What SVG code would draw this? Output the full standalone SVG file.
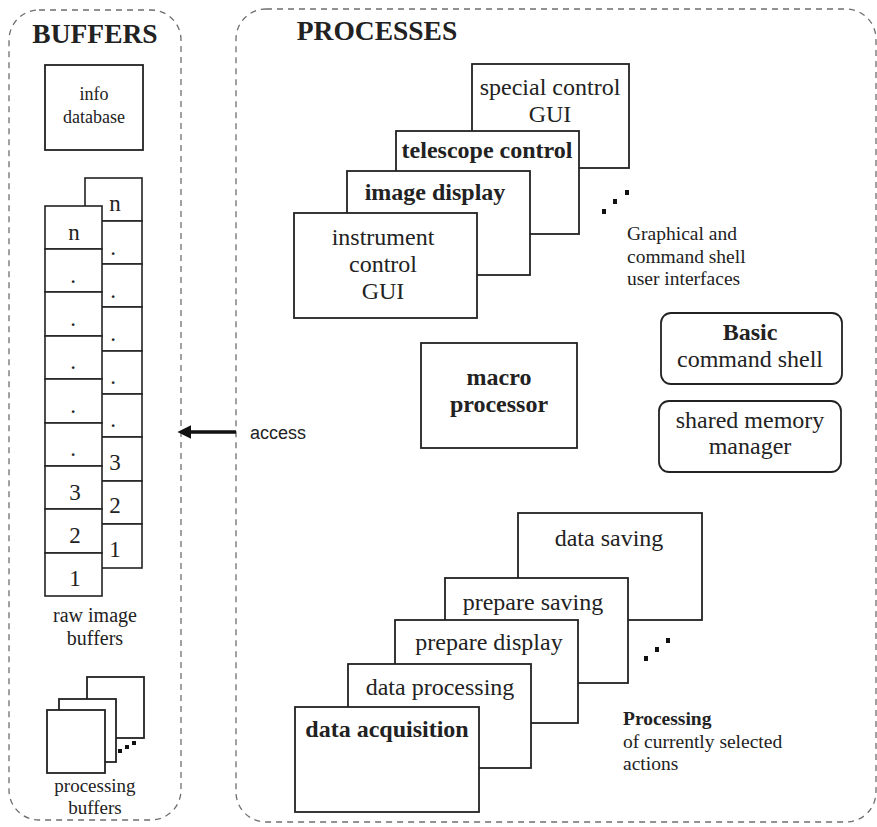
<svg xmlns="http://www.w3.org/2000/svg" width="877" height="827" viewBox="0 0 877 827">
<style>
.panel{fill:none;stroke:#6e6e6e;stroke-width:1.3;stroke-dasharray:6 5}
.box{fill:#fff;stroke:#222;stroke-width:1.8}
.cell{fill:#fff;stroke:#222;stroke-width:1.6}
.t{font-family:"Liberation Serif","Times New Roman",Times,serif;fill:#222;font-size:24px;text-anchor:middle}
.n{font-family:"Liberation Serif","Times New Roman",Times,serif;fill:#222;font-size:23px;text-anchor:middle}
.b{font-weight:bold}
.h{font-family:"Liberation Serif","Times New Roman",Times,serif;fill:#222;font-size:27.5px;font-weight:bold;text-anchor:middle}
.s{font-family:"Liberation Serif","Times New Roman",Times,serif;fill:#222;font-size:19.5px}
.c{font-family:"Liberation Serif","Times New Roman",Times,serif;fill:#222;font-size:20px;text-anchor:middle}
.d{fill:#111}
</style>
<defs>
<marker id="ah" viewBox="0 0 10 10" refX="1" refY="5" markerWidth="4" markerHeight="4" orient="auto-start-reverse"><path d="M0,0 L10,5 L0,10 z" fill="#111"/></marker>
</defs>

<g id="buffers-panel">
<rect class="panel" x="9" y="10" width="172" height="810" rx="30"/>
<text class="h" x="95" y="43">BUFFERS</text>
</g>
<g id="processes-panel">
<rect class="panel" x="236" y="9" width="640" height="813" rx="30"/>
<text class="h" x="377" y="40">PROCESSES</text>
</g>

<g id="info-database">
<rect class="box" x="45" y="65" width="98" height="85"/>
<text class="c" x="94" y="100" style="font-size:18px">info</text>
<text class="c" x="94" y="123" style="font-size:18px">database</text>
</g>

<g id="raw-buffers-back">
<rect class="cell" x="85" y="178" width="57" height="43"/>
<rect class="cell" x="85" y="221" width="57" height="43"/>
<rect class="cell" x="85" y="264" width="57" height="43"/>
<rect class="cell" x="85" y="307" width="57" height="44"/>
<rect class="cell" x="85" y="351" width="57" height="43"/>
<rect class="cell" x="85" y="394" width="57" height="43"/>
<rect class="cell" x="85" y="437" width="57" height="44"/>
<rect class="cell" x="85" y="481" width="57" height="43"/>
<rect class="cell" x="85" y="524" width="57" height="44"/>
<text class="n" x="115" y="211">n</text>
<text class="n" x="113" y="255">.</text>
<text class="n" x="113" y="298">.</text>
<text class="n" x="113" y="341">.</text>
<text class="n" x="113" y="384">.</text>
<text class="n" x="113" y="427">.</text>
<text class="n" x="115" y="470">3</text>
<text class="n" x="115" y="513">2</text>
<text class="n" x="115" y="557">1</text>
</g>
<g id="raw-buffers-front">
<rect class="cell" x="45" y="206" width="57" height="43"/>
<rect class="cell" x="45" y="249" width="57" height="43"/>
<rect class="cell" x="45" y="292" width="57" height="44"/>
<rect class="cell" x="45" y="336" width="57" height="43"/>
<rect class="cell" x="45" y="379" width="57" height="44"/>
<rect class="cell" x="45" y="423" width="57" height="43"/>
<rect class="cell" x="45" y="466" width="57" height="43"/>
<rect class="cell" x="45" y="509" width="57" height="44"/>
<rect class="cell" x="45" y="553" width="57" height="43"/>
<text class="n" x="74" y="240">n</text>
<text class="n" x="73" y="283">.</text>
<text class="n" x="73" y="326">.</text>
<text class="n" x="73" y="369">.</text>
<text class="n" x="73" y="413">.</text>
<text class="n" x="73" y="456">.</text>
<text class="n" x="75" y="500">3</text>
<text class="n" x="75" y="543">2</text>
<text class="n" x="75" y="586">1</text>
<text class="c" x="95" y="622">raw image</text>
<text class="c" x="95" y="645">buffers</text>
</g>

<g id="processing-buffers">
<rect class="box" x="87" y="677" width="57" height="61"/>
<rect class="box" x="59" y="699" width="57" height="63"/>
<rect class="box" x="47" y="710" width="58" height="63"/>
<rect class="d" x="118" y="749" width="4" height="4"/>
<rect class="d" x="125" y="745" width="4" height="4"/>
<rect class="d" x="132" y="741" width="4" height="4"/>
<text class="c" x="95" y="792" style="font-size:19px">processing</text>
<text class="c" x="95" y="814" style="font-size:19px">buffers</text>
</g>

<g id="connectors">
<line x1="236" y1="432" x2="190" y2="432" stroke="#111" stroke-width="3.5" marker-end="url(#ah)"/>
<text x="250" y="439" font-family="Liberation Sans, Arial, sans-serif" font-size="18" fill="#222">access</text>
</g>

<g id="special-control-gui">
<rect class="box" x="472" y="64" width="157" height="104"/>
<text class="t" x="550" y="95">special control</text>
<text class="t" x="550" y="122">GUI</text>
</g>
<g id="telescope-control">
<rect class="box" x="396" y="131" width="183" height="103"/>
<text class="t b" x="487" y="158">telescope control</text>
</g>
<g id="image-display">
<rect class="box" x="347" y="171" width="183" height="104"/>
<text class="t b" x="435" y="200">image display</text>
</g>
<g id="instrument-control-gui">
<rect class="box" x="294" y="213" width="183" height="105"/>
<text class="t" x="383" y="245">instrument</text>
<text class="t" x="383" y="272">control</text>
<text class="t" x="383" y="299">GUI</text>
</g>
<g id="gui-more">
<rect class="d" x="602" y="209" width="4" height="5"/>
<rect class="d" x="613" y="199" width="4" height="5"/>
<rect class="d" x="625" y="190" width="4" height="5"/>
<text class="s" x="627" y="240">Graphical and</text>
<text class="s" x="627" y="263">command shell</text>
<text class="s" x="627" y="285">user interfaces</text>
</g>

<g id="macro-processor">
<rect class="box" x="421" y="343" width="156" height="105"/>
<text class="t b" x="499" y="385">macro</text>
<text class="t b" x="499" y="412">processor</text>
</g>

<g id="basic-command-shell">
<rect class="box" x="661" y="313" width="181" height="71" rx="10"/>
<text class="t b" x="750" y="340">Basic</text>
<text class="t" x="750" y="367">command shell</text>
</g>
<g id="shared-memory-manager">
<rect class="box" x="659" y="401" width="182" height="71" rx="10"/>
<text class="t" x="750" y="428">shared memory</text>
<text class="t" x="750" y="454">manager</text>
</g>

<g id="data-saving">
<rect class="box" x="518" y="513" width="184" height="107"/>
<text class="t" x="609" y="546">data saving</text>
</g>
<g id="prepare-saving">
<rect class="box" x="445" y="578" width="183" height="105"/>
<text class="t" x="533" y="610">prepare saving</text>
</g>
<g id="prepare-display">
<rect class="box" x="395" y="620" width="183" height="103"/>
<text class="t" x="489" y="650">prepare display</text>
</g>
<g id="data-processing">
<rect class="box" x="348" y="664" width="183" height="104"/>
<text class="t" x="440" y="695">data processing</text>
</g>
<g id="data-acquisition">
<rect class="box" x="295" y="707" width="184" height="105"/>
<text class="t b" x="387" y="737">data acquisition</text>
</g>
<g id="actions-more">
<rect class="d" x="644" y="656" width="4" height="5"/>
<rect class="d" x="655" y="647" width="4" height="5"/>
<rect class="d" x="666" y="638" width="4" height="5"/>
<text class="s b" x="623" y="725">Processing</text>
<text class="s" x="623" y="748">of currently selected</text>
<text class="s" x="623" y="770">actions</text>
</g>
</svg>
